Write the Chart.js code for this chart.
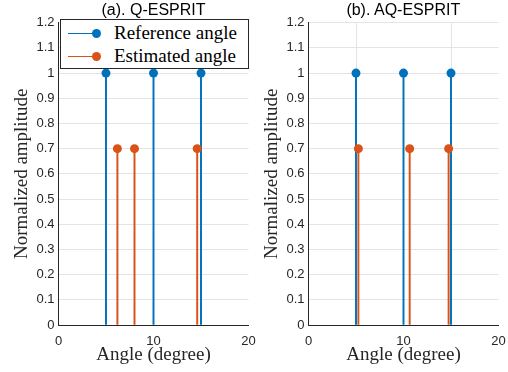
<!DOCTYPE html>
<html>
<head>
<meta charset="utf-8">
<script src="https://cdn.jsdelivr.net/npm/chart.js@4/dist/chart.umd.min.js"></script>
<style>
  html, body { margin: 0; padding: 0; background: #fff; }
  #wrap { position: relative; width: 508px; height: 372px; overflow: hidden; }
  .panel { position: absolute; top: 0; height: 372px; }
  #panelA { left: 0; width: 258px; }
  #panelB { left: 250px; width: 258px; }
  .ttl {
    position: absolute; top: 0; width: 190px; height: 20px; line-height: 20px; text-align: center;
    font-family: "Liberation Sans", Arial, sans-serif; font-size: 16px; color: #000; z-index: 6;
  }
  #legend {
    position: absolute; left: 60px; top: 19px; width: 187px; height: 48px;
    border: 1px solid #262626; background: #fff; z-index: 5;
    font-family: "Liberation Serif", "Times New Roman", serif; font-size: 19px; color: #000;
  }
  .row { position: absolute; left: 0; height: 22px; width: 100%; }
  .row .ln { position: absolute; left: 7px; top: 10px; width: 29px; height: 1.3px; }
  .row .mk { position: absolute; left: 31px; top: 6px; width: 9px; height: 9px; border-radius: 50%; }
  .row .tx { position: absolute; left: 53px; top: -1px; line-height: 22px; white-space: nowrap; }
</style>
</head>
<body>
<div id="wrap">
  <div class="panel" id="panelA"><canvas id="chartA" width="258" height="372"></canvas></div>
  <div class="panel" id="panelB"><canvas id="chartB" width="258" height="372"></canvas></div>
  <div class="ttl" style="left:58.5px">(a). Q-ESPRIT</div>
  <div class="ttl" style="left:308.3px">(b). AQ-ESPRIT</div>
  <div id="legend">
    <div class="row" style="top:3px">
      <span class="ln" style="background:#0072BD"></span><span class="mk" style="background:#0072BD"></span>
      <span class="tx">Reference angle</span>
    </div>
    <div class="row" style="top:26px">
      <span class="ln" style="background:#D95319"></span><span class="mk" style="background:#D95319"></span>
      <span class="tx">Estimated angle</span>
    </div>
  </div>
</div>
<script>
// --- data ---
const refAnglesA = [5, 10, 15];
const refAmpsA = [1, 1, 1];
const estAnglesA = [6.2, 8, 14.6];
const estAmpsA = [0.7, 0.7, 0.7];

const refAnglesB = [5, 10, 15];
const refAmpsB = [1, 1, 1];
const estAnglesB = [5.25, 10.65, 14.75];
const estAmpsB = [0.7, 0.7, 0.7];

const xTicks = [0, 10, 20];
const yTicks = [0, 0.1, 0.2, 0.3, 0.4, 0.5, 0.6, 0.7, 0.8, 0.9, 1, 1.1, 1.2];

const BLUE = '#0072BD';
const ORANGE = '#D95319';
const INK = '#262626';
const GRID = '#e4e4e4';

function pts(xs, ys) {
    return xs.map((x, i) => ({ x: x, y: ys[i] }));
}

function stemChart(canvasId, refX, refY, estX, estY) {
    const stem = (data, color, order) => ({
        type: 'bar', data: data, backgroundColor: color,
        barThickness: 1.3, grouped: false, order: order
    });
    const marks = (data, color, order) => ({
        type: 'line', data: data, showLine: false, order: order,
        pointRadius: 4.5, pointBackgroundColor: color, pointBorderColor: color, pointBorderWidth: 0
    });

    return new Chart(document.getElementById(canvasId), {
        type: 'bar',
        data: {
            datasets: [
                stem(pts(refX, refY), BLUE, 4),
                marks(pts(refX, refY), BLUE, 3),
                stem(pts(estX, estY), ORANGE, 2),
                marks(pts(estX, estY), ORANGE, 1)
            ]
        },
        options: {
            responsive: false,
            animation: false,
            layout: { padding: { left: 0, right: 9.5, top: 22.7, bottom: 0 } },
            plugins: {
                legend: { display: false },
                tooltip: { enabled: false }
            },
            scales: {
                x: {
                    type: 'linear', min: 0, max: 20, offset: false,
                    afterBuildTicks: s => { s.ticks = xTicks.map(v => ({ value: v })); },
                    afterFit: s => { s.height = 47; },
                    grid: { color: GRID, drawTicks: true, tickLength: 9, tickColor: 'rgba(0,0,0,0)' },
                    border: { color: INK, width: 1 },
                    ticks: { color: INK, padding: 0, font: { family: 'Liberation Sans, Arial', size: 13 } },
                    title: {
                        display: true, text: 'Angle (degree)', color: INK,
                        font: { family: 'Liberation Serif, Times New Roman', size: 19 },
                        padding: { top: 0, bottom: 5.5 }
                    }
                },
                y: {
                    min: 0, max: 1.2,
                    afterBuildTicks: s => { s.ticks = yTicks.map(v => ({ value: v })); },
                    afterFit: s => { s.width = 58.5; },
                    grid: { color: GRID, drawTicks: false },
                    border: { color: INK, width: 1 },
                    ticks: {
                        color: INK, padding: 4,
                        font: { family: 'Liberation Sans, Arial', size: 13 },
                        callback: v => String(Math.round(v * 10) / 10)
                    },
                    title: {
                        display: true, text: 'Normalized amplitude', color: INK,
                        font: { family: 'Liberation Serif, Times New Roman', size: 19 },
                        padding: { top: 10.5, bottom: 0 }
                    }
                }
            }
        }
    });
}

stemChart('chartA', refAnglesA, refAmpsA, estAnglesA, estAmpsA);
stemChart('chartB', refAnglesB, refAmpsB, estAnglesB, estAmpsB);
</script>
</body>
</html>
